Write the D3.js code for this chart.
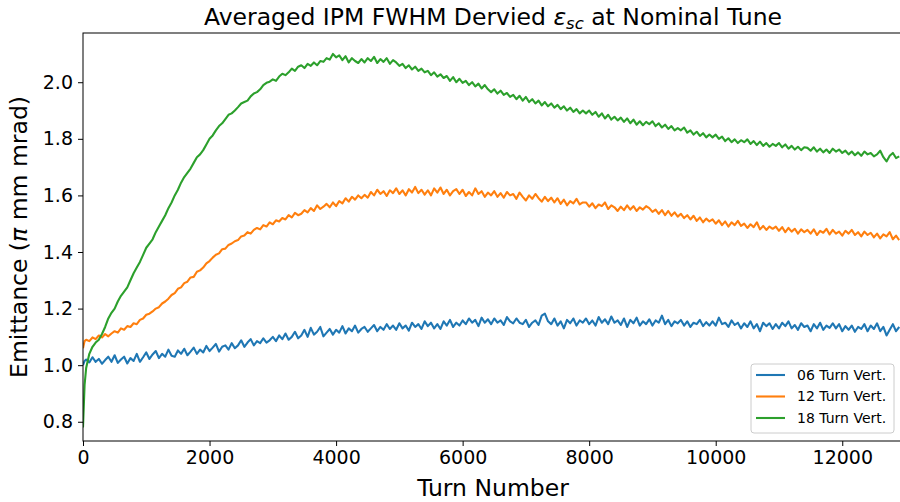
<!DOCTYPE html>
<html>
<head>
<meta charset="utf-8">
<script src="https://cdn.jsdelivr.net/npm/d3@7"></script>
<style>
  html, body { margin: 0; padding: 0; background: #fff; }
  svg { display: block; font-family: "DejaVu Sans", sans-serif; }
</style>
</head>
<body>
<div id="chart"></div>
<script>
// Averaged IPM FWHM emittance vs turn number, three IPM integration settings.

const turns = [
  0, 25, 50, 100, 150, 200, 250, 300, 350, 400,
  450, 500, 550, 600, 650, 700, 750, 800, 850, 900,
  950, 1000, 1050, 1100, 1150, 1200, 1250, 1300, 1350, 1400,
  1450, 1500, 1550, 1600, 1650, 1700, 1750, 1800, 1850, 1900,
  1950, 2000, 2050, 2100, 2150, 2200, 2250, 2300, 2350, 2400,
  2450, 2500, 2550, 2600, 2650, 2700, 2750, 2800, 2850, 2900,
  2950, 3000, 3050, 3100, 3150, 3200, 3250, 3300, 3350, 3400,
  3450, 3500, 3550, 3600, 3650, 3700, 3750, 3800, 3850, 3900,
  3950, 4000, 4050, 4100, 4150, 4200, 4250, 4300, 4350, 4400,
  4450, 4500, 4550, 4600, 4650, 4700, 4750, 4800, 4850, 4900,
  4950, 5000, 5050, 5100, 5150, 5200, 5250, 5300, 5350, 5400,
  5450, 5500, 5550, 5600, 5650, 5700, 5750, 5800, 5850, 5900,
  5950, 6000, 6050, 6100, 6150, 6200, 6250, 6300, 6350, 6400,
  6450, 6500, 6550, 6600, 6650, 6700, 6750, 6800, 6850, 6900,
  6950, 7000, 7050, 7100, 7150, 7200, 7250, 7300, 7350, 7400,
  7450, 7500, 7550, 7600, 7650, 7700, 7750, 7800, 7850, 7900,
  7950, 8000, 8050, 8100, 8150, 8200, 8250, 8300, 8350, 8400,
  8450, 8500, 8550, 8600, 8650, 8700, 8750, 8800, 8850, 8900,
  8950, 9000, 9050, 9100, 9150, 9200, 9250, 9300, 9350, 9400,
  9450, 9500, 9550, 9600, 9650, 9700, 9750, 9800, 9850, 9900,
  9950, 10000, 10050, 10100, 10150, 10200, 10250, 10300, 10350, 10400,
  10450, 10500, 10550, 10600, 10650, 10700, 10750, 10800, 10850, 10900,
  10950, 11000, 11050, 11100, 11150, 11200, 11250, 11300, 11350, 11400,
  11450, 11500, 11550, 11600, 11650, 11700, 11750, 11800, 11850, 11900,
  11950, 12000, 12050, 12100, 12150, 12200, 12250, 12300, 12350, 12400,
  12450, 12500, 12550, 12600, 12650, 12700, 12750, 12800, 12850, 12900
];

const vert06 = [
  1.00, 1.015, 1.02, 1.01, 1.028, 1.012, 1.022, 1.005, 1.018, 1.03,
  1.012, 1.035, 1.008, 1.02, 1.03, 1.006, 1.025, 1.015, 1.04, 1.012,
  1.028, 1.045, 1.022, 1.038, 1.05, 1.025, 1.04, 1.03, 1.055, 1.033,
  1.03, 1.052, 1.04, 1.058, 1.035, 1.048, 1.062, 1.04, 1.055, 1.045,
  1.068, 1.05, 1.062, 1.075, 1.048, 1.065, 1.07, 1.055, 1.078, 1.06,
  1.07, 1.088, 1.065, 1.08, 1.092, 1.07, 1.085, 1.078, 1.095, 1.08,
  1.088, 1.10, 1.085, 1.105, 1.092, 1.112, 1.09, 1.10, 1.118, 1.095,
  1.105, 1.125, 1.10, 1.132, 1.108, 1.118, 1.135, 1.102, 1.115, 1.128,
  1.108, 1.125, 1.115, 1.138, 1.112, 1.13, 1.12, 1.14, 1.115, 1.128,
  1.135, 1.118, 1.13, 1.142, 1.12, 1.135, 1.125, 1.145, 1.128, 1.14,
  1.125, 1.148, 1.13, 1.14, 1.122, 1.15, 1.135, 1.145, 1.128, 1.155,
  1.138, 1.15, 1.13, 1.145, 1.128, 1.155, 1.14, 1.16, 1.135, 1.15,
  1.14, 1.158, 1.145, 1.165, 1.15, 1.16, 1.138, 1.168, 1.15, 1.162,
  1.145, 1.165, 1.15, 1.158, 1.142, 1.17, 1.155, 1.148, 1.165, 1.15,
  1.145, 1.16, 1.135, 1.15, 1.158, 1.142, 1.175, 1.182, 1.155, 1.145,
  1.165, 1.14, 1.155, 1.13, 1.16, 1.148, 1.165, 1.14, 1.158, 1.15,
  1.165, 1.145, 1.158, 1.14, 1.17, 1.15, 1.162, 1.145, 1.172, 1.15,
  1.158, 1.142, 1.165, 1.135, 1.16, 1.148, 1.168, 1.14, 1.155, 1.145,
  1.162, 1.14, 1.158, 1.15, 1.175, 1.145, 1.16, 1.138, 1.155, 1.148,
  1.16, 1.14, 1.155, 1.135, 1.15, 1.145, 1.16, 1.138, 1.152, 1.14,
  1.155, 1.14, 1.168, 1.145, 1.15, 1.135, 1.158, 1.142, 1.15, 1.13,
  1.148, 1.135, 1.155, 1.13, 1.145, 1.12, 1.15, 1.138, 1.148, 1.128,
  1.145, 1.13, 1.15, 1.138, 1.155, 1.13, 1.142, 1.125, 1.148, 1.135,
  1.14, 1.12, 1.145, 1.13, 1.15, 1.125, 1.14, 1.132, 1.148, 1.13,
  1.145, 1.12, 1.138, 1.125, 1.14, 1.118, 1.135, 1.128, 1.145, 1.12,
  1.14, 1.128, 1.148, 1.12, 1.135, 1.105, 1.125, 1.145, 1.12, 1.135
];

const vert12 = [
  1.06, 1.085, 1.09, 1.085, 1.098, 1.092, 1.105, 1.098, 1.11, 1.102,
  1.112, 1.12, 1.115, 1.13, 1.125, 1.138, 1.135, 1.148, 1.145, 1.16,
  1.165, 1.178, 1.182, 1.19, 1.20, 1.205, 1.218, 1.225, 1.235, 1.248,
  1.255, 1.27, 1.275, 1.29, 1.295, 1.31, 1.312, 1.33, 1.335, 1.345,
  1.36, 1.368, 1.38, 1.39, 1.395, 1.41, 1.412, 1.425, 1.43, 1.438,
  1.442, 1.455, 1.458, 1.47, 1.465, 1.478, 1.485, 1.48, 1.495, 1.49,
  1.505, 1.498, 1.512, 1.508, 1.52, 1.515, 1.53, 1.522, 1.538, 1.53,
  1.535, 1.548, 1.54, 1.555, 1.545, 1.565, 1.552, 1.56, 1.57, 1.558,
  1.575, 1.562, 1.58, 1.572, 1.59, 1.578, 1.595, 1.585, 1.60, 1.59,
  1.602, 1.592, 1.612, 1.60, 1.62, 1.605, 1.615, 1.598, 1.618, 1.608,
  1.625, 1.605, 1.618, 1.60, 1.622, 1.61, 1.63, 1.608, 1.62, 1.603,
  1.618, 1.60, 1.625, 1.61, 1.628, 1.605, 1.62, 1.60, 1.615, 1.622,
  1.605, 1.62, 1.598, 1.612, 1.60, 1.625, 1.605, 1.615, 1.595, 1.61,
  1.60, 1.615, 1.595, 1.608, 1.592, 1.612, 1.60, 1.605, 1.588, 1.61,
  1.595, 1.582, 1.60, 1.588, 1.605, 1.59, 1.578, 1.595, 1.58, 1.592,
  1.575, 1.59, 1.57, 1.585, 1.565, 1.58, 1.572, 1.588, 1.568, 1.575,
  1.575, 1.56, 1.572, 1.555, 1.568, 1.562, 1.575, 1.552, 1.565, 1.558,
  1.545, 1.56, 1.548, 1.565, 1.55, 1.562, 1.545, 1.558, 1.55, 1.562,
  1.555, 1.542, 1.55, 1.535, 1.548, 1.53, 1.545, 1.528, 1.54, 1.525,
  1.535, 1.52, 1.53, 1.515, 1.528, 1.51, 1.522, 1.505, 1.518, 1.508,
  1.515, 1.50, 1.512, 1.495, 1.508, 1.49, 1.505, 1.495, 1.51, 1.492,
  1.50, 1.485, 1.498, 1.488, 1.505, 1.48, 1.492, 1.478, 1.49, 1.482,
  1.49, 1.475, 1.488, 1.47, 1.485, 1.472, 1.482, 1.465, 1.48, 1.47,
  1.478, 1.465, 1.48, 1.46, 1.475, 1.468, 1.482, 1.462, 1.478, 1.465,
  1.472, 1.458, 1.475, 1.465, 1.478, 1.46, 1.47, 1.455, 1.472, 1.46,
  1.468, 1.452, 1.465, 1.448, 1.462, 1.455, 1.47, 1.445, 1.458, 1.442
];

const vert18 = [
  0.78, 0.93, 0.99, 1.04, 1.065, 1.08, 1.09, 1.11, 1.135, 1.165,
  1.185, 1.20, 1.225, 1.245, 1.26, 1.275, 1.30, 1.325, 1.345, 1.365,
  1.39, 1.415, 1.43, 1.445, 1.47, 1.49, 1.51, 1.53, 1.555, 1.575,
  1.60, 1.62, 1.645, 1.665, 1.68, 1.695, 1.715, 1.735, 1.745, 1.76,
  1.78, 1.80, 1.812, 1.83, 1.845, 1.855, 1.87, 1.885, 1.89, 1.90,
  1.912, 1.925, 1.93, 1.935, 1.95, 1.96, 1.965, 1.975, 1.99, 1.998,
  2.002, 2.01, 2.005, 2.02, 2.03, 2.025, 2.035, 2.048, 2.04, 2.055,
  2.06, 2.05, 2.065, 2.058, 2.07, 2.06, 2.075, 2.072, 2.085, 2.08,
  2.10, 2.088, 2.095, 2.078, 2.092, 2.07, 2.085, 2.075, 2.068, 2.082,
  2.07, 2.085, 2.075, 2.09, 2.068, 2.082, 2.072, 2.085, 2.065, 2.078,
  2.07, 2.058, 2.065, 2.05, 2.06, 2.045, 2.055, 2.04, 2.048, 2.035,
  2.04, 2.025, 2.035, 2.02, 2.028, 2.015, 2.022, 2.005, 2.018, 2.00,
  2.012, 1.998, 2.005, 1.99, 2.00, 1.985, 1.995, 1.978, 1.99, 1.975,
  1.965, 1.975, 1.96, 1.97, 1.955, 1.962, 1.948, 1.955, 1.94, 1.952,
  1.935, 1.948, 1.93, 1.94, 1.925, 1.935, 1.918, 1.93, 1.915, 1.925,
  1.91, 1.92, 1.905, 1.915, 1.90, 1.91, 1.895, 1.905, 1.89, 1.90,
  1.89, 1.90, 1.885, 1.895, 1.878, 1.89, 1.872, 1.885, 1.868, 1.878,
  1.865, 1.875, 1.86, 1.872, 1.855, 1.868, 1.85, 1.862, 1.848, 1.86,
  1.852, 1.862, 1.845, 1.855, 1.84, 1.85, 1.835, 1.845, 1.83, 1.838,
  1.83, 1.84, 1.822, 1.83, 1.815, 1.825, 1.81, 1.82, 1.805, 1.815,
  1.805, 1.815, 1.80, 1.808, 1.792, 1.802, 1.788, 1.798, 1.785, 1.795,
  1.788, 1.798, 1.782, 1.792, 1.778, 1.79, 1.775, 1.785, 1.772, 1.782,
  1.775, 1.785, 1.77, 1.78, 1.765, 1.775, 1.762, 1.772, 1.76, 1.77,
  1.768, 1.758, 1.77, 1.755, 1.765, 1.752, 1.762, 1.75, 1.765, 1.755,
  1.762, 1.75, 1.758, 1.745, 1.755, 1.742, 1.752, 1.74, 1.755, 1.745,
  1.75, 1.738, 1.745, 1.758, 1.735, 1.72, 1.74, 1.75, 1.732, 1.738
];

const seriesNames = ["06 Turn Vert.", "12 Turn Vert.", "18 Turn Vert."];
const seriesColors = ["#1f77b4", "#ff7f0e", "#2ca02c"];
const xTicks = [0, 2000, 4000, 6000, 8000, 10000, 12000];
const yTicks = [0.8, 1.0, 1.2, 1.4, 1.6, 1.8, 2.0];

const width = 900, height = 502;
const margin = { top: 33, right: -3, bottom: 61, left: 83 };
const plotW = width - margin.left - margin.right;
const plotH = height - margin.top - margin.bottom;

const x = d3.scaleLinear().domain([0, 12960]).range([0, plotW]);
const y = d3.scaleLinear().domain([0.732, 2.174]).range([plotH, 0]);

const svg = d3.select("#chart").append("svg")
  .attr("width", width)
  .attr("height", height);

const g = svg.append("g").attr("transform", `translate(${margin.left},${margin.top})`);

// clip lines to the axes box
g.append("clipPath").attr("id", "clip")
  .append("rect").attr("width", plotW).attr("height", plotH);

const line = d3.line()
  .x(d => x(d[0]))
  .y(d => y(d[1]));

[vert06, vert12, vert18].forEach((vals, i) => {
  g.append("path")
    .datum(turns.map((t, j) => [t, vals[j]]))
    .attr("clip-path", "url(#clip)")
    .attr("fill", "none")
    .attr("stroke", seriesColors[i])
    .attr("stroke-width", 2.1)
    .attr("stroke-linejoin", "round")
    .attr("d", line);
});

// axes
const xAxis = g.append("g")
  .attr("transform", `translate(0,${plotH})`)
  .call(d3.axisBottom(x).tickValues(xTicks).tickFormat(d3.format("d")).tickSize(5).tickPadding(5).tickSizeOuter(0));
const yAxis = g.append("g")
  .call(d3.axisLeft(y).tickValues(yTicks).tickFormat(d3.format(".1f")).tickSize(5).tickPadding(5).tickSizeOuter(0));

[xAxis, yAxis].forEach(ax => {
  ax.selectAll("text").attr("fill", "#000").style("font-size", "19px").style("font-family", "DejaVu Sans");
  ax.selectAll("line").attr("stroke", "#000").attr("stroke-width", 1);
  ax.select(".domain").remove();
});

// spines
g.append("rect")
  .attr("x", 0).attr("y", 0)
  .attr("width", plotW).attr("height", plotH)
  .attr("fill", "none")
  .attr("stroke", "#000")
  .attr("stroke-width", 1);

// title with math epsilon_sc
const title = svg.append("text")
  .attr("x", margin.left + plotW / 2)
  .attr("y", 25)
  .attr("text-anchor", "middle")
  .style("font-size", "23.5px")
  .attr("fill", "#000");
title.append("tspan").text("Averaged IPM FWHM Dervied ");
title.append("tspan").style("font-style", "italic").text("ε");
title.append("tspan").style("font-style", "italic").style("font-size", "16.5px").attr("dy", 4).text("sc");
title.append("tspan").attr("dy", -4).text(" at Nominal Tune");

// axis labels
svg.append("text")
  .attr("x", margin.left + plotW / 2)
  .attr("y", 496)
  .attr("text-anchor", "middle")
  .style("font-size", "23.5px")
  .attr("fill", "#000")
  .text("Turn Number");

const yl = svg.append("text")
  .attr("transform", `translate(27,${margin.top + plotH / 2}) rotate(-90)`)
  .attr("text-anchor", "middle")
  .style("font-size", "23.5px")
  .attr("fill", "#000");
yl.append("tspan").text("Emittance (");
yl.append("tspan").style("font-style", "italic").text("π");
yl.append("tspan").text(" mm mrad)");

// legend
const legend = svg.append("g").attr("transform", "translate(751,364)");
legend.append("rect")
  .attr("width", 143).attr("height", 69)
  .attr("rx", 3)
  .attr("fill", "#fff")
  .attr("fill-opacity", 0.8)
  .attr("stroke", "#cccccc");
seriesNames.forEach((name, i) => {
  const row = legend.append("g").attr("transform", `translate(0,${11 + i * 21.5})`);
  row.append("line")
    .attr("x1", 5).attr("x2", 34)
    .attr("stroke", seriesColors[i]).attr("stroke-width", 2.1);
  row.append("text")
    .attr("x", 46).attr("dy", "0.35em")
    .style("font-size", "14px")
    .attr("fill", "#000")
    .text(name);
});
</script>
</body>
</html>
